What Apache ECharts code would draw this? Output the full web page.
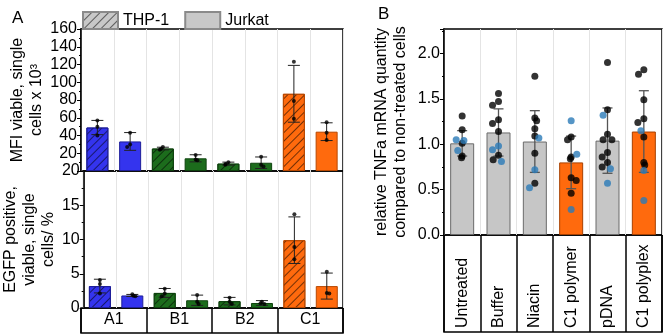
<!DOCTYPE html>
<html>
<head>
<meta charset="utf-8">
<script src="https://cdn.jsdelivr.net/npm/echarts@6/dist/echarts.min.js"></script>
<style>
    html, body { margin: 0; padding: 0; background: #fff; }
    #chart { width: 664px; height: 335px; }
</style>
</head>
<body>
<div id="chart"></div>
<script>
// ---- panel A: flow cytometry, THP-1 vs Jurkat per polymer ----
const groups = ["A1", "B1", "B2", "C1"];
const cells = ["A1 THP-1", "A1 Jurkat", "B1 THP-1", "B1 Jurkat", "B2 THP-1", "B2 Jurkat", "C1 THP-1", "C1 Jurkat"];

// MFI (x 10^3)
const mfiThp = [49, 25.3, 8.3, 87];
const mfiThpSd = [8, 1.5, 1.7, 32];
const mfiJur = [33.3, 14.3, 9.3, 44.3];
const mfiJurSd = [10, 4, 6.5, 10];
const mfiThpPts = [[57, 50, 40], [27, 25, 24], [10, 8, 7], [123, 79, 59]];
const mfiJurPts = [[43, 30, 27], [18, 13, 12], [16, 7, 5], [55, 43, 35]];

// EGFP positive (%)
const egfpThp = [3.2, 2.2, 1.0, 9.9];
const egfpThpSd = [1.0, 0.65, 0.55, 3.4];
const egfpJur = [1.83, 1.13, 0.73, 3.2];
const egfpJurSd = [0.15, 0.75, 0.35, 1.9];
const egfpThpPts = [[4.1, 3.5, 2.1], [2.8, 2.1, 1.7], [1.5, 0.9, 0.6], [13.7, 8.9, 7.1]];
const egfpJurPts = [[2.0, 1.8, 1.7], [1.9, 0.9, 0.6], [0.9, 0.7, 0.6], [5.3, 2.2, 2.1]];

// ---- panel B: TNFa qPCR ----
const treatments = ["Untreated", "Buffer", "Niacin", "C1 polymer", "pDNA", "C1 polyplex"];
const tnfMean = [1.01, 1.13, 1.03, 0.80, 1.04, 1.14];
const tnfSd = [0.14, 0.26, 0.34, 0.29, 0.36, 0.45];
const tnfBlack = [
    [1.31, 1.16, 1.01, 0.87, 0.85],
    [1.56, 1.47, 1.43, 1.27, 1.23, 1.14, 0.88, 0.83],
    [1.75, 1.29, 1.26, 1.17, 1.09, 0.90, 0.57],
    [1.08, 1.05, 0.86, 0.84, 0.63, 0.60, 0.46],
    [1.90, 1.38, 1.11, 1.05, 1.05, 0.91, 0.86, 0.80, 0.75],
    [1.82, 1.77, 1.49, 1.28, 1.24, 1.08, 0.80, 0.77],
];
const tnfBlue = [
    [1.05, 1.04, 0.93],
    [0.98, 0.94, 0.81],
    [1.07, 0.72, 0.52],
    [1.26, 0.89, 0.28],
    [1.32, 0.73, 0.57],
    [1.15, 0.71, 0.38],
];

const FONT = "Liberation Sans, Arial, sans-serif";
const groupFill = ["#3434ee", "#1c6c1c", "#1c6c1c", "#ff6a0d"];
const groupEdge = ["#1e1e9a", "#0e430e", "#0e430e", "#b84800"];
const tnfFill = ["#c6c6c6", "#c6c6c6", "#c6c6c6", "#ff6a0d", "#c6c6c6", "#ff6a0d"];
const tnfEdge = ["#6a6a6a", "#6a6a6a", "#6a6a6a", "#a84000", "#6a6a6a", "#a84000"];

const hatch = {
    symbol: "rect",
    symbolSize: 1,
    dashArrayX: [1, 0],
    dashArrayY: [1, 5],
    rotation: -Math.PI / 4,
    color: "rgba(0,0,0,0.55)",
};

const chart = echarts.init(document.getElementById("chart"));

// bar data on the 8-slot axis: THP-1 in even slots, Jurkat in odd slots
function slotBars(values, odd) {
    const out = [];
    groups.forEach((g, i) => {
        const item = {
            value: values[i],
            itemStyle: { color: groupFill[i], borderColor: groupEdge[i] },
        };
        if (odd) out.push("-", item);
        else out.push(item, "-");
    });
    return out;
}

function slotErrors(means, sds, odd) {
    return means.map((m, i) => [2 * i + (odd ? 1 : 0), m - sds[i], m + sds[i]]);
}

function slotPoints(pts, odd) {
    const out = [];
    pts.forEach((arr, i) => arr.forEach((v) => out.push([2 * i + (odd ? 1 : 0), v])));
    return out;
}

function errorRender(capHalf, color, width) {
    return function (params, api) {
        const x = api.value(0);
        const lo = api.coord([x, api.value(1)]);
        const hi = api.coord([x, api.value(2)]);
        const style = { stroke: color, lineWidth: width };
        return {
            type: "group",
            children: [
                { type: "line", shape: { x1: lo[0], y1: lo[1], x2: hi[0], y2: hi[1] }, style },
                { type: "line", shape: { x1: hi[0] - capHalf, y1: hi[1], x2: hi[0] + capHalf, y2: hi[1] }, style },
                { type: "line", shape: { x1: lo[0] - capHalf, y1: lo[1], x2: lo[0] + capHalf, y2: lo[1] }, style },
            ],
        };
    };
}

const border = { show: true, borderColor: "#000", borderWidth: 1.5 };
const tickLabel = { color: "#000", fontSize: 16, fontFamily: FONT };
const lightSplit = { show: true, interval: 0, lineStyle: { color: "#e4e4e4", width: 1 } };

function slotAxis(gridIndex, data, jitter) {
    const ax = {
        type: "category",
        gridIndex,
        data,
        axisLine: { show: false },
        axisTick: { show: false },
        axisLabel: { show: false },
        splitLine: jitter ? { show: false } : lightSplit,
    };
    if (jitter) {
        ax.show = false;
        ax.jitter = jitter;
        ax.jitterOverlap = false;
        ax.jitterMargin = 0;
    }
    return ax;
}

function labelAxis(gridIndex, data, extra) {
    return Object.assign({
        type: "category",
        gridIndex,
        data,
        axisLine: { show: false },
        axisTick: { show: false },
        splitLine: { show: true, interval: 0, lineStyle: { color: "#000", width: 1.5 } },
    }, extra);
}

function valueAxis(gridIndex, min, max, interval, name, nameGap, extra) {
    return Object.assign({
        type: "value",
        gridIndex,
        min,
        max,
        interval,
        name,
        nameLocation: "middle",
        nameRotate: 90,
        nameGap,
        nameTextStyle: { color: "#000", fontSize: 16, fontFamily: FONT, lineHeight: 19 },
        axisLine: { show: true, lineStyle: { color: "#000", width: 1.5 } },
        axisTick: { show: true, length: 4, lineStyle: { color: "#000" } },
        minorTick: { show: true, splitNumber: 2, length: 2, lineStyle: { color: "#000" } },
        axisLabel: Object.assign({ margin: 4 }, tickLabel),
        splitLine: { show: false },
    }, extra);
}

const option = {
    animation: false,
    backgroundColor: "#fff",
    textStyle: { fontFamily: FONT },
    title: [
        { text: "A", left: 7, top: 5, textStyle: { fontSize: 17, fontWeight: "normal", color: "#000", fontFamily: FONT } },
        { text: "B", left: 373, top: 1, textStyle: { fontSize: 17, fontWeight: "normal", color: "#000", fontFamily: FONT } },
    ],
    legend: {
        left: 82,
        top: 11,
        padding: 0,
        icon: "rect",
        itemWidth: 35,
        itemHeight: 17,
        itemGap: 15,
        textStyle: { fontSize: 16, color: "#000", fontFamily: FONT },
        data: ["THP-1", "Jurkat"],
    },
    grid: [
        Object.assign({ left: 81, top: 29, width: 262, height: 142 }, border),
        Object.assign({ left: 81, top: 171, width: 262, height: 137 }, border),
        Object.assign({ left: 81, top: 308, width: 262, height: 25 }, border),
        Object.assign({ left: 444, top: 29, width: 218, height: 206 }, border),
        Object.assign({ left: 444, top: 235, width: 218, height: 97 }, border),
    ],
    xAxis: [
        slotAxis(0, cells),
        slotAxis(0, cells, 6),
        slotAxis(1, cells),
        slotAxis(1, cells, 6),
        labelAxis(2, groups, { axisLabel: Object.assign({ inside: true, margin: 5 }, tickLabel) }),
        slotAxis(3, treatments),
        slotAxis(3, treatments, 12),
        labelAxis(4, treatments, { axisLabel: Object.assign({ inside: true, rotate: 90, margin: 4 }, tickLabel) }),
    ],
    yAxis: [
        valueAxis(0, 0, 160, 20, "MFI viable, single\ncells x 10³", 34, { axisLabel: Object.assign({ margin: 4, showMinLabel: false }, tickLabel) }),
        valueAxis(1, 0, 20, 5, "EGFP positive,\nviable, single\ncells/ %", 21),
        { type: "value", gridIndex: 2, show: false },
        valueAxis(3, 0, 2.27, 0.5, "relative TNFa mRNA quantity\ncompared to non-treated cells", 34, {
            axisLabel: Object.assign({ margin: 4, showMaxLabel: false, formatter: (v) => v.toFixed(1) }, tickLabel),
        }),
        { type: "value", gridIndex: 4, show: false },
    ],
    series: [
        // panel A top: MFI
        {
            name: "THP-1", type: "bar", xAxisIndex: 0, yAxisIndex: 0, barWidth: 22, barGap: "-100%",
            itemStyle: { color: "#c8c8c8", borderColor: "#8a8a8a", borderWidth: 1, decal: hatch },
            data: slotBars(mfiThp, false),
        },
        {
            name: "Jurkat", type: "bar", xAxisIndex: 0, yAxisIndex: 0, barWidth: 22, barGap: "-100%",
            itemStyle: { color: "#c8c8c8", borderColor: "#8a8a8a", borderWidth: 1 },
            data: slotBars(mfiJur, true),
        },
        {
            type: "custom", xAxisIndex: 0, yAxisIndex: 0, z: 3,
            renderItem: errorRender(6, "#222", 1),
            data: slotErrors(mfiThp, mfiThpSd, false).concat(slotErrors(mfiJur, mfiJurSd, true)),
        },
        {
            type: "scatter", xAxisIndex: 1, yAxisIndex: 0, symbolSize: 4, z: 4,
            itemStyle: { color: "#000" },
            data: slotPoints(mfiThpPts, false).concat(slotPoints(mfiJurPts, true)),
        },
        // panel A bottom: EGFP
        {
            name: "THP-1", type: "bar", xAxisIndex: 2, yAxisIndex: 1, barWidth: 22, barGap: "-100%",
            itemStyle: { color: "#c8c8c8", borderColor: "#8a8a8a", borderWidth: 1, decal: hatch },
            data: slotBars(egfpThp, false),
        },
        {
            name: "Jurkat", type: "bar", xAxisIndex: 2, yAxisIndex: 1, barWidth: 22, barGap: "-100%",
            itemStyle: { color: "#c8c8c8", borderColor: "#8a8a8a", borderWidth: 1 },
            data: slotBars(egfpJur, true),
        },
        {
            type: "custom", xAxisIndex: 2, yAxisIndex: 1, z: 3,
            renderItem: errorRender(6, "#222", 1),
            data: slotErrors(egfpThp, egfpThpSd, false).concat(slotErrors(egfpJur, egfpJurSd, true)),
        },
        {
            type: "scatter", xAxisIndex: 3, yAxisIndex: 1, symbolSize: 4, z: 4,
            itemStyle: { color: "#000" },
            data: slotPoints(egfpThpPts, false).concat(slotPoints(egfpJurPts, true)),
        },
        // panel B
        {
            type: "bar", xAxisIndex: 5, yAxisIndex: 3, barWidth: 24,
            data: tnfMean.map((v, i) => ({ value: v, itemStyle: { color: tnfFill[i], borderColor: tnfEdge[i], borderWidth: 1 } })),
        },
        {
            type: "custom", xAxisIndex: 5, yAxisIndex: 3, z: 3,
            renderItem: errorRender(5, "#555", 1.3),
            data: tnfMean.map((m, i) => [i, m - tnfSd[i], m + tnfSd[i]]),
        },
        {
            type: "scatter", xAxisIndex: 6, yAxisIndex: 3, symbolSize: 7, z: 4,
            itemStyle: { color: "#000" },
            data: tnfBlack.flatMap((arr, i) => arr.map((v) => [i, v])),
        },
        {
            type: "scatter", xAxisIndex: 6, yAxisIndex: 3, symbolSize: 7, z: 5,
            itemStyle: { color: "#2a7ab8" },
            data: tnfBlue.flatMap((arr, i) => arr.map((v) => [i, v])),
        },
    ],
};

chart.setOption(option);
</script>
</body>
</html>
